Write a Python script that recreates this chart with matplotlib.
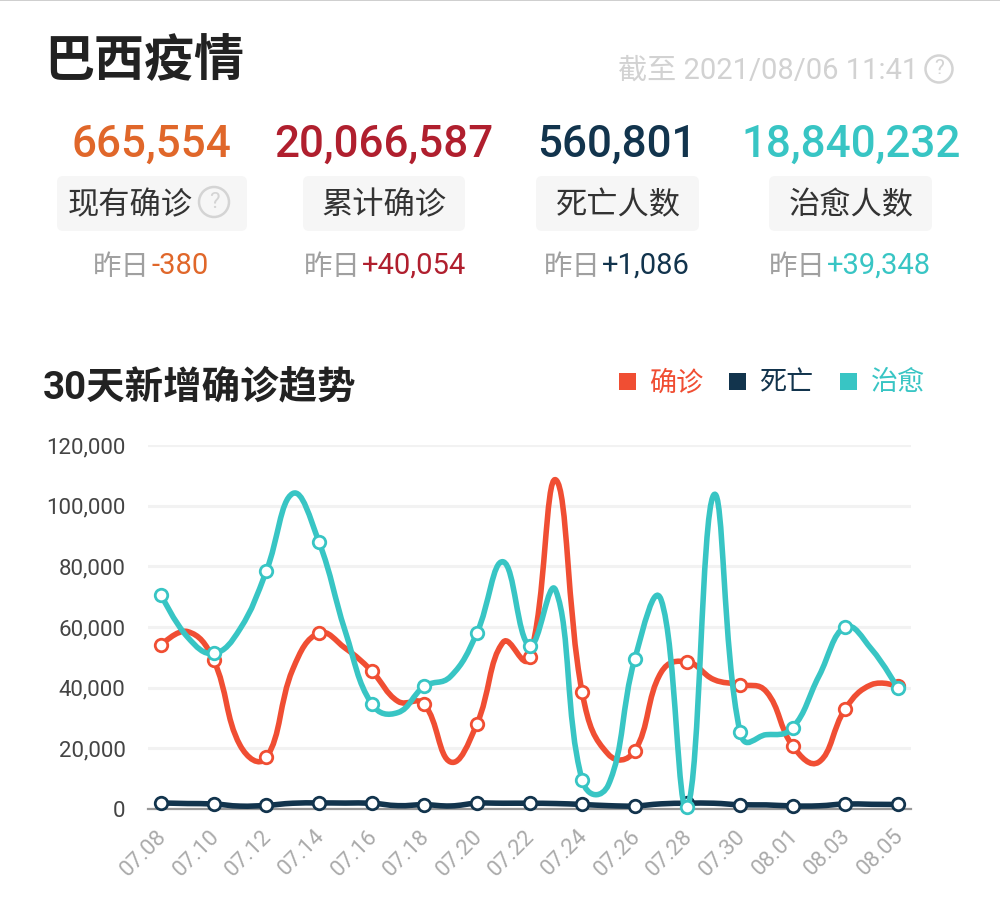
import numpy as np
import matplotlib
matplotlib.use('Agg')
import matplotlib.pyplot as plt
from matplotlib.patches import FancyBboxPatch, PathPatch, Rectangle, Circle
from matplotlib.path import Path
from matplotlib.transforms import ScaledTranslation

plt.rcParams['font.family'] = ['Roboto', 'Noto Sans CJK SC', 'DejaVu Sans']

RED = '#f04e33'
NAVY = '#12344d'
TEAL = '#38c5c4'

dates = ['07.08', '07.09', '07.10', '07.11', '07.12', '07.13', '07.14', '07.15', '07.16', '07.17',
         '07.18', '07.19', '07.20', '07.21', '07.22', '07.23', '07.24', '07.25', '07.26', '07.27',
         '07.28', '07.29', '07.30', '07.31', '08.01', '08.02', '08.03', '08.04', '08.05']
confirmed = [54000, 58500, 49000, 21000, 17000, 46000, 58000, 53000, 45500, 35500,
             34500, 15500, 28000, 55000, 50000, 108500, 38500, 18000, 19200, 45000,
             48500, 42700, 41000, 38700, 20800, 15500, 33000, 41000, 40500]
deaths = [2000, 1800, 1650, 950, 1200, 1900, 2000, 1950, 1900, 1100,
          1400, 1000, 1900, 1900, 1900, 1800, 1500, 1100, 1000, 1700,
          1900, 1900, 1400, 1350, 1000, 1050, 1650, 1550, 1500]
cured = [70500, 56700, 51300, 59400, 78500, 104000, 88000, 58500, 34700, 31800,
         40400, 43700, 58000, 81500, 53800, 72000, 9600, 8000, 49400, 69000,
         700, 103500, 25500, 24500, 26800, 43800, 60000, 52700, 39800]
y_ticks = [0, 20000, 40000, 60000, 80000, 100000, 120000]

title = '巴西疫情'
updated = '截至 2021/08/06 11:41'
section_title = '30天新增确诊趋势'
stat_values = ['665,554', '20,066,587', '560,801', '18,840,232']
stat_labels = ['现有确诊', '累计确诊', '死亡人数', '治愈人数']
stat_deltas = ['-380', '+40,054', '+1,086', '+39,348']
stat_colors = ['#e0672a', '#b01f2e', NAVY, TEAL]
legend_names = ['确诊', '死亡', '治愈']
legend_colors = [RED, NAVY, TEAL]


def smooth_path(xs, ys, sx, sy, smooth=0.42, blend=0.7):
    # bezier through the points, tangents partly weighted by on-screen segment length
    pts = np.column_stack([xs, ys]).astype(float)
    scale = np.array([sx, sy])
    verts = [pts[0]]
    codes = [Path.MOVETO]
    out_cp = pts[0]
    for i in range(1, len(pts)):
        p = pts[i]
        if i < len(pts) - 1:
            prev_len = np.hypot(*((p - pts[i - 1]) * scale))
            next_len = np.hypot(*((pts[i + 1] - p) * scale))
            ratio = 0.5 + blend * (next_len / (prev_len + next_len) - 0.5)
            v = pts[i + 1] - pts[i - 1]
            in_cp = p - v * smooth * (1 - ratio)
            next_out = p + v * smooth * ratio
        else:
            in_cp = p
            next_out = p
        verts += [out_cp, in_cp, p]
        codes += [Path.CURVE4] * 3
        out_cp = next_out
    return Path(verts, codes)


fig = plt.figure(figsize=(10, 8.97), dpi=100)

# page level things, in pixel coordinates
page = fig.add_axes([0, 0, 1, 1])
page.set_xlim(0, 1000)
page.set_ylim(897, 0)
page.axis('off')

page.add_patch(Rectangle((0, 0), 1000, 1.2, color='#cfcfcf', lw=0))
page.text(44, 62, title, fontsize=36, fontweight='bold', color='#222222',
          family='Noto Sans CJK SC', va='center', ha='left')
page.text(918, 71, updated, fontsize=21, color='#d2d2d2', va='center', ha='right')


def help_icon(x, y, r, size):
    page.add_patch(Circle((x, y), r, fill=False, ec='#d4d4d4', lw=1.8))
    page.text(x, y, '?', fontsize=size, color='#d4d4d4', ha='center', va='center')


help_icon(939, 69, 13.5, 15)

value_x = [151, 384, 617, 851]
pills = [(57, 247), (303, 465), (536, 699), (769, 932)]
label_x = [130, 384, 618, 851]
delta_split = [150, 361, 601, 826]
for i in range(4):
    page.text(value_x[i], 145, stat_values[i], fontsize=31.7, color=stat_colors[i],
              fontweight='medium', ha='center', va='center')
    x0, x1 = pills[i]
    page.add_patch(FancyBboxPatch((x0 + 5, 181), x1 - x0 - 10, 45, boxstyle='round,pad=5,rounding_size=6',
                                  fc='#f6f6f6', ec='none'))
    page.text(label_x[i], 205, stat_labels[i], fontsize=22.5, color='#333333',
              family='Noto Sans CJK SC', ha='center', va='center')
    page.text(delta_split[i], 267, '昨日', fontsize=20.5, color='#a0a0a0',
              family='Noto Sans CJK SC', ha='right', va='center')
    page.text(delta_split[i] + 1, 266, stat_deltas[i], fontsize=21, color=stat_colors[i],
              ha='left', va='center')
help_icon(214, 202, 15, 16)

page.text(43, 388, section_title, fontsize=27.7, fontweight='bold', color='#222222',
          ha='left', va='center')

legend_sq = [619, 729, 840]
for sq, name, col in zip(legend_sq, legend_names, legend_colors):
    page.add_patch(Rectangle((sq, 373), 17, 17, color=col, lw=0))
    page.text(sq + 30.5, 383, name, fontsize=19.5, color=col, family='Noto Sans CJK SC',
              ha='left', va='center')

# chart, axes box
ax = fig.add_axes([148 / 1000, 1 - 809 / 897, 763 / 1000, 364 / 897])
ax.patch.set_alpha(0)
x = np.arange(len(dates))
ax.set_xlim(-0.5, len(dates) - 0.5)
ax.set_ylim(0, 120000)
for spine in ['top', 'left', 'right']:
    ax.spines[spine].set_visible(False)
ax.spines['bottom'].set_color('#999999')
ax.spines['bottom'].set_linewidth(1.6)
ax.spines['bottom'].set_zorder(1)
ax.set_yticks(y_ticks)
ax.set_yticklabels(['{:,}'.format(v) for v in y_ticks], fontsize=16, color='#444444')
ax.set_xticks(x[::2])
ax.set_xticklabels(dates[::2], fontsize=16, color='#aaaaaa', rotation=45, ha='right',
                   va='top', rotation_mode='anchor')
ax.tick_params(axis='both', length=0)
ax.tick_params(axis='y', pad=16.2)
ax.tick_params(axis='x', pad=12)
shift = ScaledTranslation(-5 / 100, 0, fig.dpi_scale_trans)
for lab in ax.get_xticklabels():
    lab.set_transform(lab.get_transform() + shift)
ax.grid(axis='y', color='#f2f2f2', linewidth=2.2)
ax.set_axisbelow(True)

sx = 763 / 29
sy = 364 / 120000
for z, (vals, col) in enumerate([(confirmed, RED), (deaths, NAVY), (cured, TEAL)]):
    ax.add_patch(PathPatch(smooth_path(x, vals, sx, sy), fill=False, ec=col, lw=4,
                           capstyle='round', joinstyle='round', zorder=3 + z, clip_on=False))
    ax.plot(x[::2], vals[::2], 'o', ms=9, mfc='white', mec=col, mew=2,
            zorder=3 + z, clip_on=False)

plt.savefig('out.png', dpi=100)
